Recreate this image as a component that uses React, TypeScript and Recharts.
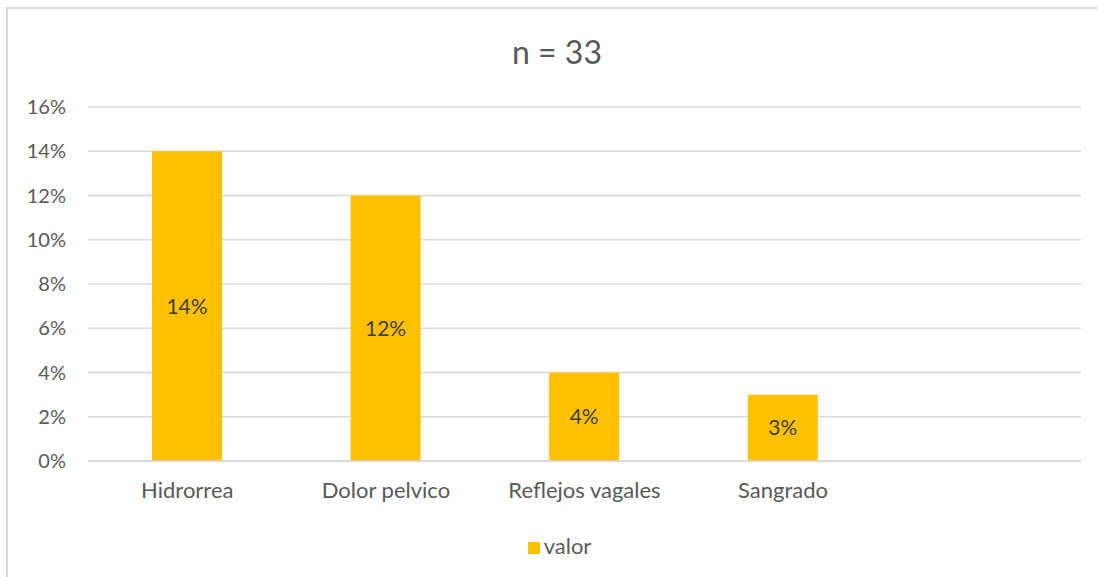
import { Bar, BarChart, CartesianGrid, LabelList, Legend, XAxis, YAxis } from 'recharts'

const categories = ['Hidrorrea', 'Dolor pelvico', 'Reflejos vagales', 'Sangrado', '']
const valores = [0.14, 0.12, 0.04, 0.03, null]
const yTicks = [0, 0.02, 0.04, 0.06, 0.08, 0.1, 0.12, 0.14, 0.16]

const data = categories.map((name, i) => ({ name, valor: valores[i] }))

const FONT = 'Lato, "Open Sans", sans-serif'
const pct = (v: number) => `${Math.round(v * 100)}%`

const App = () => {
	return (
		<div
			style={{
				position: 'absolute',
				left: 0,
				top: 0,
				width: 1097,
				height: 577,
				background: '#fff',
				fontFamily: FONT,
			}}
		>
			<div
				style={{
					position: 'absolute',
					left: 6,
					top: 7,
					width: 1091,
					height: 570,
					borderTop: '2px solid #d9d9d9',
					borderLeft: '2px solid #d9d9d9',
					boxSizing: 'border-box',
				}}
			/>
			<div
				style={{
					position: 'absolute',
					left: 0,
					width: 1114,
					top: 32,
					textAlign: 'center',
					fontSize: 32,
					lineHeight: '40px',
					color: '#595959',
				}}
			>
				n = 33
			</div>
			<BarChart
				width={1097}
				height={577}
				data={data}
				margin={{ top: 107, right: 16, left: 0, bottom: 52 }}
				barCategoryGap={0}
				style={{ position: 'absolute', left: 0, top: 0 }}
			>
				<CartesianGrid vertical={false} stroke='#d9d9d9' strokeWidth={1.5} />
				<XAxis
					dataKey='name'
					axisLine={{ stroke: '#d9d9d9', strokeWidth: 1.5 }}
					tickLine={false}
					tickMargin={15}
					height={34}
					interval={0}
					tick={{ fill: '#595959', fontSize: 22, fontFamily: FONT }}
				/>
				<YAxis
					width={88}
					domain={[0, 0.16]}
					ticks={yTicks}
					tickFormatter={pct}
					axisLine={false}
					tickLine={false}
					tickMargin={16}
					tick={{ fill: '#595959', fontSize: 20, fontFamily: FONT }}
				/>
				<Legend
					verticalAlign='bottom'
					iconType='square'
					iconSize={12}
					height={30}
					wrapperStyle={{
						top: 531,
						bottom: 'auto',
						left: 24,
						fontSize: 22,
						fontFamily: FONT,
						lineHeight: '30px',
					}}
					formatter={(v) => <span style={{ color: '#595959' }}>{v}</span>}
				/>
				<Bar dataKey='valor' fill='#ffc000' barSize={70} isAnimationActive={false}>
					<LabelList
						dataKey='valor'
						position='center'
						formatter={(v: any) => (v == null ? '' : pct(v))}
						style={{ fill: '#404040', fontSize: 21, fontFamily: FONT }}
					/>
				</Bar>
			</BarChart>
		</div>
	)
}

export default App
